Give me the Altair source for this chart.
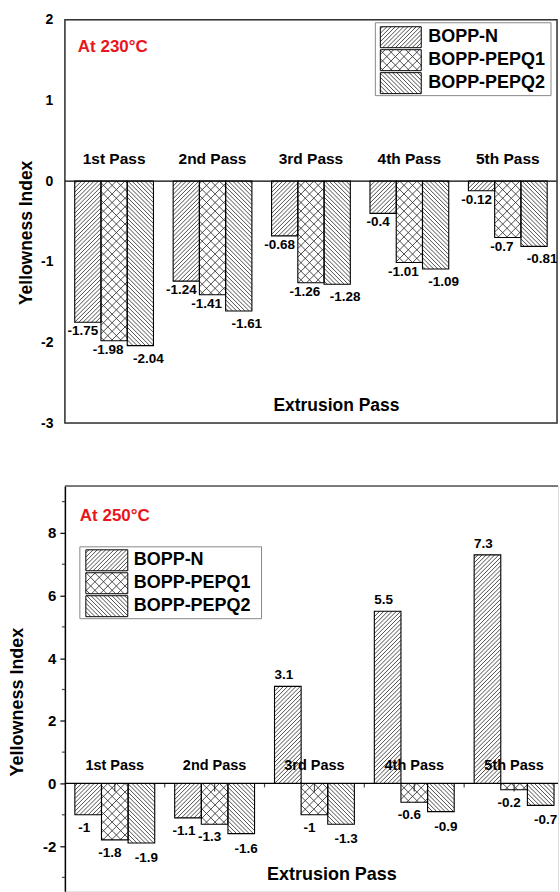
import altair as alt
import pandas as pd

# ---------------- data ----------------
passes = ["1st Pass", "2nd Pass", "3rd Pass", "4th Pass", "5th Pass"]
series = ["BOPP-N", "BOPP-PEPQ1", "BOPP-PEPQ2"]

yi_230_n = [-1.75, -1.24, -0.68, -0.4, -0.12]
yi_230_q1 = [-1.98, -1.41, -1.26, -1.01, -0.7]
yi_230_q2 = [-2.04, -1.61, -1.28, -1.09, -0.81]

yi_250_n = [-1, -1.1, 3.1, 5.5, 7.3]
yi_250_q1 = [-1.8, -1.3, -1, -0.6, -0.2]
yi_250_q2 = [-1.9, -1.6, -1.3, -0.9, -0.7]

ticks_230 = [-3, -2, -1, 0, 1, 2]
ticks_250 = [-2, 0, 2, 4, 6, 8]
minor_250 = [-3, -1, 1, 3, 5, 7, 9]

# ---------------- style ----------------
FONT = "Liberation Sans"
RED = "#e8161b"
HATCH = "#2e2e2e"
PAD_OUT = 0.1          # outer padding of a pass group (in group steps)
BW = 0.8 / 3           # width of one bar (in group steps)
P_SINGLE = 4.2         # hatch period (px) for single hatching
P_CROSS = 8.6          # hatch period (px) for cross hatching


def long_df(cols):
    rows = []
    for j, vals in enumerate(cols):
        for i, v in enumerate(vals):
            rows.append({"pass": passes[i], "i": i, "series": series[j], "j": j,
                         "value": v, "lab": f"{v:g}"})
    return pd.DataFrame(rows)


def hatch_layer(chart, Sx, Sy, X, Y):
    return chart.transform_calculate(
        dirs="datum.j == 1 ? [1, -1] : (datum.j == 0 ? [1] : [-1])",
        per=f"datum.j == 1 ? {P_CROSS} : {P_SINGLE}",
        ua=f"min(datum.x0, datum.x1) * {Sx}",
        ub=f"max(datum.x0, datum.x1) * {Sx}",
        ta=f"min(datum.y0, datum.y1) * {Sy}",
        tb=f"max(datum.y0, datum.y1) * {Sy}",
    ).transform_flatten(["dirs"], as_=["d"]).transform_calculate(
        cmin="datum.d > 0 ? datum.ta - datum.ub : datum.ta + datum.ua",
        cmax="datum.d > 0 ? datum.tb - datum.ua : datum.tb + datum.ub",
    ).transform_calculate(
        ks="sequence(ceil(datum.cmin / datum.per), ceil(datum.cmax / datum.per))"
    ).transform_flatten(["ks"], as_=["k"]).transform_calculate(
        c="datum.k * datum.per",
    ).transform_calculate(
        u1="max(datum.ua, datum.d > 0 ? datum.ta - datum.c : datum.c - datum.tb)",
        u2="min(datum.ub, datum.d > 0 ? datum.tb - datum.c : datum.c - datum.ta)",
    ).transform_filter("datum.u2 - datum.u1 > 0.2").transform_calculate(
        hx1=f"datum.u1 / {Sx}",
        hx2=f"datum.u2 / {Sx}",
        hy1=f"(datum.d * datum.u1 + datum.c) / {Sy}",
        hy2=f"(datum.d * datum.u2 + datum.c) / {Sy}",
    ).mark_rule(color=HATCH, strokeWidth=0.85).encode(
        x=X("hx1"), x2="hx2:Q", y=Y("hy1"), y2="hy2:Q",
    )


def panel(cfg):
    W, H = cfg["W"], cfg["H"]
    xdom, ydom = cfg["xdom"], cfg["ydom"]
    Sx = W / (xdom[1] - xdom[0])
    Sy = H / (ydom[1] - ydom[0])
    xs = alt.Scale(domain=xdom, nice=False, zero=False)
    ys = alt.Scale(domain=ydom, nice=False, zero=False)

    xaxis = alt.Axis(title="Extrusion Pass", labels=False, ticks=False, domain=False, grid=False,
                     titleFont=FONT, titleFontSize=cfg["xtitle_size"], titleFontWeight="bold",
                     titleColor="black", titleX=cfg["xtitle_x"], titleY=cfg["xtitle_y"],
                     titleBaseline="middle", titleAlign="center")
    yaxis = alt.Axis(values=cfg["yticks"], labelExpr="'' + datum.value", title="Yellowness Index",
                     grid=False, ticks=cfg["yticks_on"], tickSize=5, tickWidth=1.2, tickColor="black",
                     domain=cfg["ydomain_on"], domainColor="black", domainWidth=1.5,
                     labelFont=FONT, labelFontSize=cfg["ylab_size"], labelFontWeight="bold",
                     labelColor="black", labelPadding=cfg["ylab_pad"],
                     titleFont=FONT, titleFontSize=cfg["ytitle_size"], titleFontWeight="bold",
                     titleColor="black", titleX=cfg["ytitle_xy"][0], titleY=cfg["ytitle_xy"][1],
                     titleAngle=270, titleAlign="center", titleBaseline="middle")

    def X(f):
        return alt.X(f + ":Q", scale=xs, axis=xaxis)

    def Y(f):
        return alt.Y(f + ":Q", scale=ys, axis=yaxis)

    df = long_df(cfg["cols"])

    bars = alt.Chart(df).transform_calculate(
        x0=f"datum.i + {PAD_OUT} + datum.j * {BW}",
        x1=f"datum.i + {PAD_OUT} + (datum.j + 1) * {BW}",
        y0="0",
        y1="datum.value",
    )
    enc_rect = dict(x=X("x0"), x2="x1:Q", y=Y("y0"), y2="y1:Q")
    bar_fill = bars.mark_rect(fill="white", strokeWidth=0).encode(**enc_rect)
    bar_hatch = hatch_layer(bars, Sx, Sy, X, Y)
    bar_edge = bars.mark_rect(fillOpacity=0, stroke="black", strokeWidth=1.1).encode(**enc_rect)

    frame_df = pd.DataFrame({"fx0": [xdom[0]], "fx1": [xdom[1]], "fy0": [ydom[0]], "fy1": [ydom[1]]})

    layers = [bar_fill, bar_hatch, bar_edge]

    # zero line
    zero = alt.Chart(pd.DataFrame({"z": [0]})).mark_rule(color="black", strokeWidth=1.2).encode(y=Y("z"))
    layers.append(zero)

    if cfg["frame"]:
        layers.append(alt.Chart(frame_df).mark_rect(fillOpacity=0, stroke="#333333", strokeWidth=1.5).encode(
            x=X("fx0"), x2="fx1:Q", y=Y("fy0"), y2="fy1:Q"))
    else:
        layers.append(alt.Chart(frame_df).mark_rule(color="#555555", strokeWidth=1.5).encode(y=Y("fy1")))

    if cfg["xticks"]:
        tick_df = pd.DataFrame({"tx": [i + 0.5 for i in range(len(passes))], "ty": [0] * len(passes)})
        layers.append(alt.Chart(tick_df).mark_tick(orient="vertical", size=8, yOffset=4, thickness=1.2,
                                                   color="black").encode(x=X("tx"), y=Y("ty")))
        mt_df = pd.DataFrame({"tx": [1, 2, 3, 4], "ty": [0] * 4})
        layers.append(alt.Chart(mt_df).mark_tick(orient="vertical", size=4, yOffset=2, thickness=1.2,
                                                 color="black").encode(x=X("tx"), y=Y("ty")))
        ym_df = pd.DataFrame({"tx": [xdom[0]] * len(cfg["yminor"]), "ty": cfg["yminor"]})
        layers.append(alt.Chart(ym_df).mark_tick(orient="horizontal", size=3, xOffset=-1.5, thickness=1.2,
                                                 color="black").encode(x=X("tx"), y=Y("ty")))

    # pass labels
    layers.append(alt.Chart(pd.DataFrame({"pass": passes, "i": list(range(len(passes)))}))
                  .transform_calculate(px="datum.i + 0.5", py="0")
                  .mark_text(font=FONT, fontWeight="bold", fontSize=cfg["pass_size"], dy=cfg["pass_dy"],
                             baseline="middle", color="black")
                  .encode(x=X("px"), y=Y("py"), text="pass:N"))

    # value labels
    dxs = cfg["lab_dx"]
    dys = cfg["lab_dy"]
    layers.append(bars.transform_calculate(
        lx=f"datum.i + {PAD_OUT} + (datum.j + 0.5) * {BW} + [{dxs[0]}, {dxs[1]}, {dxs[2]}][datum.j] / {Sx}",
        ly=f"datum.value < 0 ? datum.value - [{dys[0]}, {dys[1]}, {dys[2]}][datum.j] / {Sy} "
           f": datum.value + {cfg['lab_up']} / {Sy}",
    ).mark_text(font=FONT, fontWeight="bold", fontSize=cfg["lab_size"], baseline="middle",
                color="black", clip=True).encode(x=X("lx"), y=Y("ly"), text="lab:N"))

    # temperature annotation
    layers.append(alt.Chart(pd.DataFrame({"t": [cfg["temp"]]})).mark_text(
        font=FONT, fontWeight="bold", fontSize=cfg["temp_size"], color=RED, align="left",
        baseline="middle").encode(x=alt.value(cfg["temp_xy"][0]), y=alt.value(cfg["temp_xy"][1]),
                                  text="t:N"))

    # legend (hatched patches, drawn like the bars)
    L = cfg["legend"]
    px2x = lambda p: xdom[0] + p / Sx
    py2y = lambda p: ydom[1] - p / Sy
    leg_df = pd.DataFrame({
        "series": series, "j": [0, 1, 2],
        "x0": [px2x(L["patch_x"][0])] * 3, "x1": [px2x(L["patch_x"][1])] * 3,
        "y0": [py2y(t) for t in L["rows"]], "y1": [py2y(t + L["row_h"]) for t in L["rows"]],
        "tx": [px2x(L["text_x"])] * 3, "ty": [py2y(t + L["row_h"] / 2) for t in L["rows"]],
    })
    box_df = pd.DataFrame({"bx0": [px2x(L["box"][0])], "bx1": [px2x(L["box"][2])],
                           "by0": [py2y(L["box"][1])], "by1": [py2y(L["box"][3])]})
    leg = alt.Chart(leg_df)
    enc_leg = dict(x=X("x0"), x2="x1:Q", y=Y("y0"), y2="y1:Q")
    layers += [
        alt.Chart(box_df).mark_rect(fill="white", stroke="#888888", strokeWidth=1).encode(
            x=X("bx0"), x2="bx1:Q", y=Y("by0"), y2="by1:Q"),
        leg.mark_rect(fill="white", strokeWidth=0).encode(**enc_leg),
        hatch_layer(leg, Sx, Sy, X, Y),
        leg.mark_rect(fillOpacity=0, stroke="black", strokeWidth=1).encode(**enc_leg),
        leg.mark_text(font=FONT, fontWeight="bold", fontSize=L["size"], align="left", baseline="middle",
                      color="black").encode(x=X("tx"), y=Y("ty"), text="series:N"),
    ]

    return alt.layer(*layers).properties(width=W, height=H)


top_cfg = dict(
    W=493, H=404, xdom=[0, 5], ydom=[-3, 2], cols=[yi_230_n, yi_230_q1, yi_230_q2],
    yticks=ticks_230, yticks_on=False, ydomain_on=False, ylab_size=14, ylab_pad=12,
    ytitle_size=17.5, ytitle_xy=(-38, 213), xtitle_size=17.5, xtitle_x=271.5, xtitle_y=-18,
    frame=True, xticks=False, pass_size=15.5, pass_dy=-22,
    lab_dx=[-5, -6, 8], lab_dy=[9, 9, 13], lab_up=11, lab_size=13.5,
    temp="At 230°C", temp_size=17, temp_xy=(13, 27),
    legend=dict(box=(311, 3, 487, 76), patch_x=(316, 357), rows=[7, 30, 53], row_h=21,
                text_x=364, size=18),
)

bot_cfg = dict(
    W=494, H=406, xdom=[0, 4.94], ydom=[-3.44, 9.5], cols=[yi_250_n, yi_250_q1, yi_250_q2],
    yticks=ticks_250, yminor=minor_250, yticks_on=True, ydomain_on=True, ylab_size=15, ylab_pad=4,
    ytitle_size=18, ytitle_xy=(-47, 216), xtitle_size=18, xtitle_x=267, xtitle_y=-17,
    frame=False, xticks=True, pass_size=14.5, pass_dy=-17,
    lab_dx=[-4, -5, 5], lab_dy=[13, 13, 15], lab_up=11, lab_size=13.5,
    temp="At 250°C", temp_size=17, temp_xy=(15, 30),
    legend=dict(box=(15, 61, 197, 133), patch_x=(21, 63), rows=[64, 87, 110], row_h=21,
                text_x=69, size=18),
)

chart = alt.vconcat(panel(top_cfg), panel(bot_cfg), spacing=53).properties(
    padding={"left": 8, "top": 11, "right": 0, "bottom": 0}
).configure_view(stroke=None).configure(background="white")

chart.save("out.html", embed_options={"renderer": "svg", "actions": False})
